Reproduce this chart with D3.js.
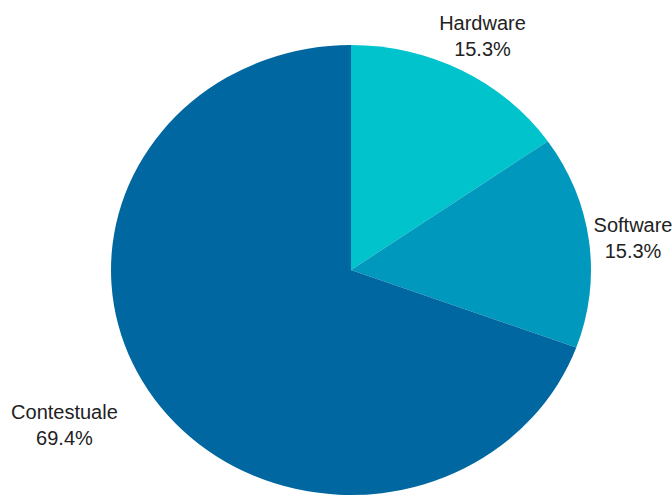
<!DOCTYPE html>
<html>
<head>
<meta charset="utf-8">
<script src="https://cdn.jsdelivr.net/npm/d3@7"></script>
<style>
  html, body { margin: 0; padding: 0; background: #fff; }
  svg { display: block; }
</style>
</head>
<body>
<svg id="chart" width="672" height="497"></svg>
<script>
const categories = ["Hardware", "Software", "Contestuale"];
const values = [15.3, 15.3, 69.4];
const labels = ["15.3%", "15.3%", "69.4%"];
const colors = ["#00c3cc", "#0099bd", "#0067a1"];

const W = 672, H = 497;
const cx = 351, cy = 270, rx = 240, ry = 225;
const svg = d3.select("#chart");

const data = categories.map((c, i) => ({ name: c, value: values[i], label: labels[i], color: colors[i] }));
const pie = d3.pie().value(d => d.value).sort(null);
const arcs = pie(data);
const arc = d3.arc().innerRadius(0).outerRadius(rx);

const g = svg.append("g").attr("transform", `translate(${cx},${cy}) scale(1,${ry / rx})`);
g.selectAll("path").data(arcs).join("path")
  .attr("d", arc)
  .attr("fill", d => d.data.color);

const labelFactor = 1.185;
const lg = svg.append("g").attr("transform", `translate(${cx},${cy})`);
arcs.forEach(a => {
  const mid = (a.startAngle + a.endAngle) / 2;
  const x = Math.sin(mid) * rx * labelFactor;
  const y = -Math.cos(mid) * ry * labelFactor;
  const t = lg.append("text")
    .attr("x", x).attr("y", y)
    .attr("text-anchor", "middle")
    .attr("font-family", "'Liberation Sans', Arial, sans-serif")
    .attr("font-size", 20)
    .attr("fill", "#222");
  const s1 = t.append("tspan").attr("x", x).attr("dy", "-0.18em").text(a.data.name);
  const s2 = t.append("tspan").attr("x", x).attr("dy", 26).text(a.data.label);
  if (x < -60) {
    const w = Math.max(s1.node().getComputedTextLength(), s2.node().getComputedTextLength());
    const nx = x - w / 2;
    s1.attr("x", nx); s2.attr("x", nx);
  }
});
</script>
</body>
</html>
